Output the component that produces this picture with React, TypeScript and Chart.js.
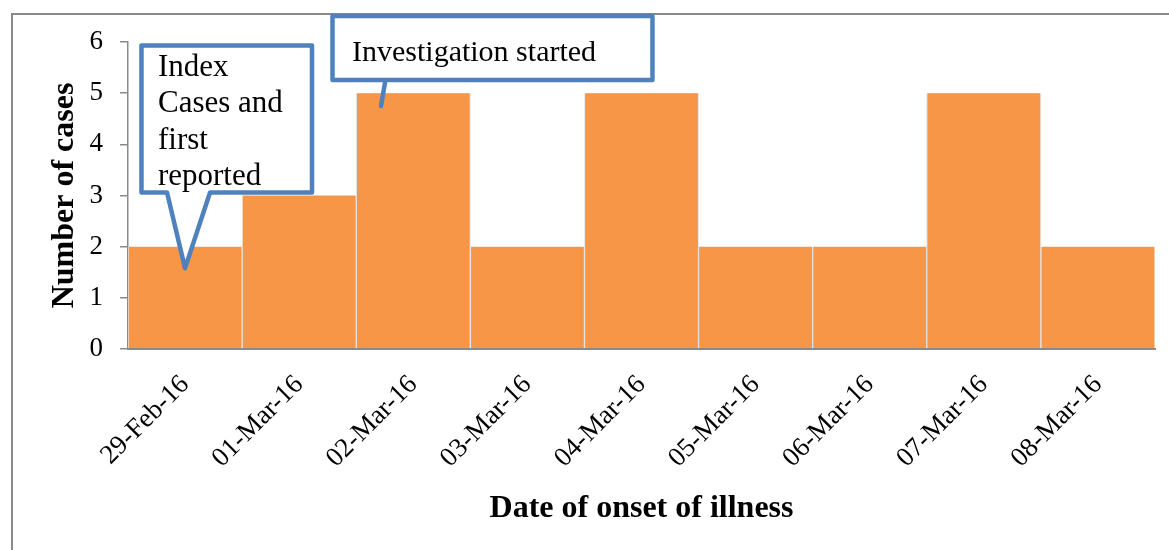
import React, { useEffect, useRef } from "react";
import { Chart, registerables } from "chart.js";

Chart.register(...registerables);

// Epidemic curve: cases by date of onset
const dates = [
  "29-Feb-16",
  "01-Mar-16",
  "02-Mar-16",
  "03-Mar-16",
  "04-Mar-16",
  "05-Mar-16",
  "06-Mar-16",
  "07-Mar-16",
  "08-Mar-16",
];
const cases = [2, 3, 5, 2, 5, 2, 2, 5, 2];
const yTicks = [0, 1, 2, 3, 4, 5, 6];

const xTitle = "Date of onset of illness";
const yTitle = "Number of cases";

// Callout annotations, placed in data space (category index, case count)
const indexNoteLines = ["Index", "Cases and", "first", "reported"];
const indexNoteBox = { x0: -0.382, x1: 1.1125, y0: 3.058, y1: 5.93 };
const indexNoteTail = { baseX0: -0.158, baseX1: 0.219, tipX: 0, tipY: 1.58 };

const investigationNote = "Investigation started";
const investigationBox = { x0: 1.292, x1: 4.096, y0: 5.257, y1: 6.508 };
const investigationTail = { fromX: 1.752, fromY: 5.2, toX: 1.717, toY: 4.749 };

const SERIF = "'Times New Roman', 'Liberation Serif', serif";
const BAR_COLOR = "#F79646";
const CALLOUT_COLOR = "#4F81BD";
const AXIS_GREY = "#8A8A8A";

const framePlugin = {
  id: "outerFrame",
  beforeDraw(chart: any) {
    const { ctx } = chart;
    ctx.save();
    ctx.fillStyle = "#ffffff";
    ctx.fillRect(0, 0, chart.width, chart.height);
    ctx.strokeStyle = AXIS_GREY;
    ctx.lineWidth = 2;
    ctx.strokeRect(12, 14, chart.width + 20, chart.height + 20);
    ctx.restore();
  },
};

const barShadowPlugin = {
  id: "barShadow",
  beforeDatasetsDraw(chart: any) {
    const { ctx } = chart;
    ctx.save();
    ctx.shadowColor = "rgba(0,0,0,0.22)";
    ctx.shadowBlur = 4;
    ctx.shadowOffsetX = 0;
    ctx.shadowOffsetY = 0;
  },
  afterDatasetsDraw(chart: any) {
    chart.ctx.restore();
  },
};

const calloutPlugin = {
  id: "callouts",
  afterDraw(chart: any) {
    const { ctx } = chart;
    const xs = chart.scales.x;
    const ys = chart.scales.y;
    const step = xs.getPixelForValue(1) - xs.getPixelForValue(0);
    const px = (u: number) => xs.getPixelForValue(0) + u * step;
    const py = (v: number) => ys.getPixelForValue(v);

    ctx.save();
    ctx.strokeStyle = CALLOUT_COLOR;
    ctx.lineWidth = 4.5;
    ctx.lineJoin = "round";
    ctx.lineCap = "round";

    // Index case callout: box with a pointed tail down into the first bar
    {
      const l = px(indexNoteBox.x0);
      const r = px(indexNoteBox.x1);
      const t = py(indexNoteBox.y1);
      const b = py(indexNoteBox.y0);
      ctx.beginPath();
      ctx.moveTo(l, t);
      ctx.lineTo(r, t);
      ctx.lineTo(r, b);
      ctx.lineTo(px(indexNoteTail.baseX1), b);
      ctx.lineTo(px(indexNoteTail.tipX), py(indexNoteTail.tipY));
      ctx.lineTo(px(indexNoteTail.baseX0), b);
      ctx.lineTo(l, b);
      ctx.closePath();
      ctx.fillStyle = "#ffffff";
      ctx.fill();
      ctx.stroke();

      ctx.fillStyle = "#000000";
      ctx.font = `31px ${SERIF}`;
      ctx.textAlign = "left";
      ctx.textBaseline = "alphabetic";
      indexNoteLines.forEach((line, i) => {
        ctx.fillText(line, l + 16.5, t + 30.5 + i * 36.3);
      });
    }

    // Investigation callout: box with a short leader line to the 02-Mar bar
    {
      const l = px(investigationBox.x0);
      const r = px(investigationBox.x1);
      const t = py(investigationBox.y1);
      const b = py(investigationBox.y0);
      ctx.beginPath();
      ctx.rect(l, t, r - l, b - t);
      ctx.fillStyle = "#ffffff";
      ctx.fill();
      ctx.stroke();

      ctx.beginPath();
      ctx.moveTo(px(investigationTail.fromX), py(investigationTail.fromY));
      ctx.lineTo(px(investigationTail.toX), py(investigationTail.toY));
      ctx.stroke();

      ctx.fillStyle = "#000000";
      ctx.font = `30px ${SERIF}`;
      ctx.textAlign = "left";
      ctx.textBaseline = "alphabetic";
      ctx.fillText(investigationNote, l + 19.5, t + 45);
    }
    ctx.restore();
  },
};

export default function App() {
  const canvasRef = useRef<HTMLCanvasElement | null>(null);

  useEffect(() => {
    document.body.style.margin = "0";
    const canvas = canvasRef.current;
    if (!canvas) return;

    const chart = new Chart(canvas, {
      type: "bar",
      data: {
        labels: dates,
        datasets: [
          {
            data: cases,
            backgroundColor: BAR_COLOR,
            borderColor: "#ffffff",
            borderWidth: { top: 0, left: 1, right: 1, bottom: 0 },
            borderSkipped: false,
            categoryPercentage: 1,
            barPercentage: 1,
          },
        ],
      },
      options: {
        animation: false,
        responsive: false,
        maintainAspectRatio: false,
        layout: { padding: { top: 42, right: 14, left: 0, bottom: 0 } },
        plugins: {
          legend: { display: false },
          tooltip: { enabled: false },
        },
        scales: {
          x: {
            type: "category",
            grid: { display: false, drawTicks: false },
            border: { display: true, color: AXIS_GREY, width: 2 },
            ticks: {
              color: "#000000",
              font: { family: SERIF, size: 27 },
              minRotation: 45,
              maxRotation: 45,
              autoSkip: false,
              padding: 20,
            },
            title: {
              display: true,
              text: xTitle,
              color: "#000000",
              font: { family: SERIF, size: 32, weight: "bold" },
              padding: { top: 0, bottom: 22 },
            },
            afterFit(scale: any) {
              scale.height = 201;
            },
          },
          y: {
            min: 0,
            max: 6,
            grid: {
              drawOnChartArea: false,
              drawTicks: true,
              tickLength: 8,
              color: AXIS_GREY,
              lineWidth: 1.5,
            },
            border: { display: true, color: AXIS_GREY, width: 1.5 },
            afterBuildTicks(scale: any) {
              scale.ticks = yTicks.map((v) => ({ value: v }));
            },
            ticks: {
              color: "#000000",
              font: { family: SERIF, size: 27 },
              padding: 17,
            },
            title: {
              display: true,
              text: yTitle,
              color: "#000000",
              font: { family: SERIF, size: 32, weight: "bold" },
              padding: { top: 46, bottom: 0 },
            },
            afterFit(scale: any) {
              scale.width = 128;
            },
          },
        },
      } as any,
      plugins: [framePlugin, barShadowPlugin, calloutPlugin],
    });

    return () => chart.destroy();
  }, []);

  return (
    <div style={{ width: 1169, height: 550, position: "relative" }}>
      <canvas ref={canvasRef} width={1169} height={550} style={{ display: "block" }} />
    </div>
  );
}
